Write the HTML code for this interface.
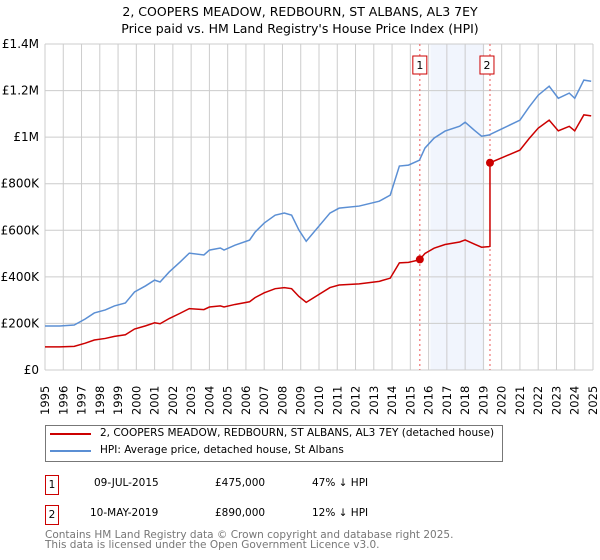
<!DOCTYPE html>
<html><head><meta charset="utf-8"><style>
body{margin:0;background:#fff;font-family:"DejaVu Sans","Liberation Sans",sans-serif;}
#wrap{position:relative;width:600px;height:560px;overflow:hidden}
.t{position:absolute;white-space:nowrap;font-size:10.5px;color:#000}
</style></head><body><div id="wrap">
<svg id="svg" width="600" height="560" style="position:absolute;left:0;top:0"></svg>
<div class="t" style="left:0;width:600px;text-align:center;top:4px;font-size:12.5px">2, COOPERS MEADOW, REDBOURN, ST ALBANS, AL3 7EY</div>
<div class="t" style="left:0;width:600px;text-align:center;top:21px;font-size:12.5px">Price paid vs. HM Land Registry's House Price Index (HPI)</div>
<div style="position:absolute;left:45px;top:425px;width:456px;height:35px;border:1px solid #777"></div>
<div style="position:absolute;left:50px;top:433px;width:41px;height:2px;background:#cc0000"></div>
<div class="t" style="left:100px;top:427px">2, COOPERS MEADOW, REDBOURN, ST ALBANS, AL3 7EY (detached house)</div>
<div style="position:absolute;left:50px;top:450px;width:41px;height:2px;background:#5b8fd4"></div>
<div class="t" style="left:100px;top:444px">HPI: Average price, detached house, St Albans</div>
<div class="t" style="left:45px;top:475px;width:12px;height:18px;border:1px solid #cc0000;text-align:center;line-height:18px">1</div>
<div class="t" style="left:94px;top:477px">09-JUL-2015</div>
<div class="t" style="left:215px;top:477px">£475,000</div>
<div class="t" style="left:312px;top:477px">47% ↓ HPI</div>
<div class="t" style="left:45px;top:505px;width:12px;height:18px;border:1px solid #cc0000;text-align:center;line-height:18px">2</div>
<div class="t" style="left:90px;top:507px">10-MAY-2019</div>
<div class="t" style="left:215px;top:507px">£890,000</div>
<div class="t" style="left:312px;top:507px">12% ↓ HPI</div>
<div class="t" style="left:45px;top:530px;color:#777;font-size:10.5px;line-height:10px">Contains HM Land Registry data © Crown copyright and database right 2025.<br>This data is licensed under the Open Government Licence v3.0.</div>
</div>
<script>
const hpiYears=[1995.0,1995.8,1996.6,1997.2,1997.7,1998.3,1998.8,1999.4,1999.9,2000.5,2001.0,2001.3,2001.8,2002.4,2002.9,2003.7,2004.0,2004.6,2004.8,2005.4,2006.2,2006.5,2007.0,2007.6,2008.1,2008.5,2008.9,2009.3,2010.6,2011.1,2012.2,2013.3,2013.9,2014.4,2014.9,2015.5,2015.8,2016.3,2016.9,2017.7,2018.0,2018.5,2018.9,2019.3,2020.1,2021.0,2021.5,2022.0,2022.6,2023.1,2023.7,2024.0,2024.5,2024.9];
const hpiValues=[189,189,193,219,245,258,275,288,335,361,386,378,421,464,502,494,515,524,515,536,558,592,631,665,674,665,601,553,674,695,704,725,751,876,880,901,953,996,1026,1047,1064,1030,1004,1009,1039,1073,1129,1180,1219,1167,1189,1167,1245,1240];
const saleYears=[2015.52,2019.36];
const salePrices=[475,890];
const yTicks=[0,200,400,600,800,1000,1200,1400];
const yTickLabels=["£0","£200K","£400K","£600K","£800K","£1M","£1.2M","£1.4M"];
const NS="http://www.w3.org/2000/svg",svg=document.getElementById('svg');
const X0=45,X1=593,Y0=370,Y1=44;
const xs=y=>X0+(y-1995)/30*(X1-X0), ys=v=>Y0-v/1400*(Y0-Y1);
function mk(t,a){const e=document.createElementNS(NS,t);for(const k in a)e.setAttribute(k,a[k]);svg.appendChild(e);return e;}
function hpiAt(y){for(let i=1;i<hpiYears.length;i++)if(y<=hpiYears[i]){const f=(y-hpiYears[i-1])/(hpiYears[i]-hpiYears[i-1]);return hpiValues[i-1]+f*(hpiValues[i]-hpiValues[i-1]);}return hpiValues[hpiValues.length-1];}
let e=mk('rect',{x:xs(2016.1),y:Y1,width:xs(2019.05)-xs(2016.1),height:Y0-Y1,fill:'#eef3fc',opacity:0.8});

for(let y=1995;y<=2025;y++){e=mk('line',{x1:xs(y),x2:xs(y),y1:Y1,y2:Y0,stroke:'#ccc','stroke-width':1});

const tx=xs(y)+4,ty=415;
const t=mk('text',{x:tx,y:ty,transform:'rotate(-90 '+tx+' '+ty+')','font-size':11.5,'font-family':'DejaVu Sans,sans-serif'});t.textContent=y;
}
yTicks.forEach((v,i)=>{e=mk('line',{x1:X0,x2:X1,y1:ys(v),y2:ys(v),stroke:'#ccc','stroke-width':1});

const t=mk('text',{x:39,y:ys(v)+4,'text-anchor':'end','font-size':12,'font-family':'DejaVu Sans,sans-serif'});t.textContent=yTickLabels[i];
});
saleYears.forEach((s,i)=>{e=mk('line',{x1:xs(s),x2:xs(s),y1:Y1,y2:Y0,stroke:'#e55','stroke-width':1,'stroke-dasharray':'2,3'});

const r=mk('rect',{x:xs(s)-7-(i?3:0),y:56,width:14,height:18,fill:'#fff',stroke:'#cc0000'});

const t=mk('text',{x:xs(s)-(i?3:0),y:69,'text-anchor':'middle','font-size':11,'font-family':'DejaVu Sans,sans-serif'});t.textContent=i+1;
});
e=mk('path',{d:hpiYears.map((y,i)=>(i?'L':'M')+xs(y)+','+ys(hpiValues[i])).join(''),fill:'none',stroke:'#5b8fd4','stroke-width':1.5});

let pts=[];
const r0=salePrices[0]/hpiAt(saleYears[0]),r1=salePrices[1]/hpiAt(saleYears[1]);
hpiYears.forEach((y,i)=>{if(y<saleYears[1])pts.push([y,hpiValues[i]*r0]);});
pts.push([saleYears[1],hpiAt(saleYears[1])*r0]);pts.push([saleYears[1],salePrices[1]]);
hpiYears.forEach((y,i)=>{if(y>saleYears[1])pts.push([y,hpiValues[i]*r1]);});
e=mk('path',{d:pts.map((p,i)=>(i?'L':'M')+xs(p[0])+','+ys(p[1])).join(''),fill:'none',stroke:'#cc0000','stroke-width':1.5});

saleYears.forEach((s,i)=>{e=mk('circle',{cx:xs(s),cy:ys(salePrices[i]),r:4,fill:'#cc0000'});
});
</script></body></html>
